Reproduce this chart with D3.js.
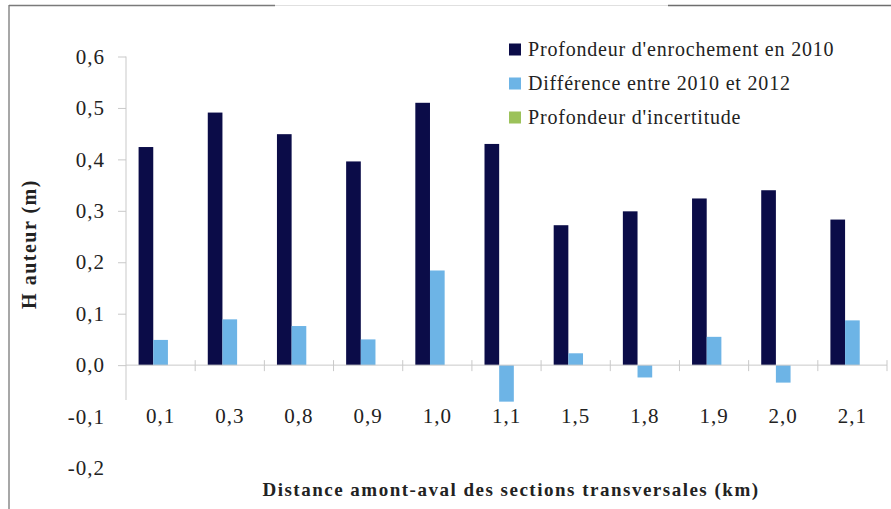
<!DOCTYPE html>
<html>
<head>
<meta charset="utf-8">
<script src="https://cdn.jsdelivr.net/npm/d3@7/dist/d3.min.js"></script>
<style>
  html, body { margin: 0; padding: 0; background: #fff; }
  svg { display: block; }
  text { font-family: "Liberation Serif", "Times New Roman", serif; fill: #222; }
</style>
</head>
<body>
<svg id="chart" width="891" height="509"></svg>
<script>
// Distance amont-aval des sections transversales (km)
const categories = ["0,1", "0,3", "0,8", "0,9", "1,0", "1,1", "1,5", "1,8", "1,9", "2,0", "2,1"];

// Hauteurs (m)
const profondeur2010 = [0.424, 0.491, 0.449, 0.396, 0.510, 0.430, 0.272, 0.299, 0.324, 0.340, 0.283];
const difference2010_2012 = [0.049, 0.089, 0.076, 0.050, 0.184, -0.071, 0.023, -0.024, 0.055, -0.034, 0.087];
const incertitude = [0, 0, 0, 0, 0, 0, 0, 0, 0, 0, 0];

const seriesNames = ["Profondeur d'enrochement en 2010", "Différence entre 2010 et 2012", "Profondeur d'incertitude"];
const seriesColors = ["#0b0c48", "#6db4e6", "#9cc25a"];
const yTicks = [-0.2, -0.1, 0, 0.1, 0.2, 0.3, 0.4, 0.5, 0.6];

const seriesValues = [profondeur2010, difference2010_2012, incertitude];
const rows = categories.map((c, i) => ({ cat: c, vals: seriesValues.map(s => s[i]) }));

const svg = d3.select("#chart");

// Frame lines
svg.append("line").attr("x1", 9).attr("x2", 9).attr("y1", 5).attr("y2", 509)
  .attr("stroke", "#8a8a8a").attr("stroke-width", 1.5);
svg.append("line").attr("x1", 9).attr("x2", 275).attr("y1", 5.5).attr("y2", 5.5)
  .attr("stroke", "#7a7a7a").attr("stroke-width", 1.5);
svg.append("line").attr("x1", 275).attr("x2", 668).attr("y1", 5.5).attr("y2", 5.5)
  .attr("stroke", "#e0e0e0").attr("stroke-width", 1);
svg.append("line").attr("x1", 668).attr("x2", 891).attr("y1", 5.5).attr("y2", 5.5)
  .attr("stroke", "#6e6e6e").attr("stroke-width", 1.5);

const left = 126, right = 887;
const x0 = d3.scaleBand().domain(categories).range([left, right])
  .paddingInner(0.364).paddingOuter(0.182);
const x1 = d3.scaleBand().domain(d3.range(seriesNames.length)).range([0, x0.bandwidth()]);
const y = d3.scaleLinear().domain([-0.2, 0.6]).range([468, 56.5]);

const fmt = v => d3.format(".1f")(v).replace(".", ",").replace("−", "-");

// Y axis
const yAxis = d3.axisLeft(y).tickValues(yTicks).tickSize(8).tickFormat(fmt).tickPadding(13);
const gy = svg.append("g").attr("transform", `translate(${left},0)`).call(yAxis);
gy.select(".domain").remove();
gy.selectAll(".tick line").attr("stroke", "#c9c9c9")
  .filter(d => d < -0.05).remove();
gy.selectAll(".tick text").attr("font-size", 21).attr("letter-spacing", 1).attr("fill", "#222");
svg.append("line").attr("x1", left).attr("x2", left).attr("y1", y(0.6)).attr("y2", 400)
  .attr("stroke", "#c9c9c9");

// Bars
const groups = svg.append("g").selectAll("g").data(rows).join("g")
  .attr("transform", d => `translate(${x0(d.cat)},0)`);
groups.selectAll("rect").data(d => d.vals.map((v, k) => ({ v, k }))).join("rect")
  .attr("x", d => x1(d.k))
  .attr("width", x1.bandwidth())
  .attr("y", d => y(Math.max(0, d.v)))
  .attr("height", d => Math.abs(y(d.v) - y(0)))
  .attr("fill", d => seriesColors[d.k]);

// X axis line at zero with crossing ticks at category boundaries
svg.append("line").attr("x1", left).attr("x2", right).attr("y1", y(0)).attr("y2", y(0))
  .attr("stroke", "#c9c9c9");
const boundaries = categories.map(c => x0(c) - x0.step() * x0.paddingInner() / 2 + x0.step());
svg.append("g").selectAll("line").data(boundaries).join("line")
  .attr("x1", d => d).attr("x2", d => d)
  .attr("y1", y(0) - 5).attr("y2", y(0) + 6)
  .attr("stroke", "#c9c9c9");

// Category labels
svg.append("g").selectAll("text").data(categories).join("text")
  .attr("x", d => x0(d) + x0.bandwidth() / 2)
  .attr("y", y(-0.1))
  .attr("dy", "0.32em")
  .attr("text-anchor", "middle")
  .attr("font-size", 21)
  .attr("letter-spacing", 1)
  .text(d => d);

// Axis titles
svg.append("text")
  .attr("x", 511).attr("y", 496)
  .attr("text-anchor", "middle")
  .attr("font-size", 19).attr("font-weight", "bold")
  .attr("letter-spacing", 1.5)
  .text("Distance amont-aval des sections transversales (km)");
svg.append("text")
  .attr("transform", "translate(36,244) rotate(-90)")
  .attr("text-anchor", "middle")
  .attr("font-size", 20).attr("font-weight", "bold")
  .attr("letter-spacing", 1.5)
  .text("H auteur (m)");

// Legend
const legend = svg.append("g").selectAll("g").data(seriesNames).join("g")
  .attr("transform", (d, i) => `translate(509,${49 + i * 34})`);
legend.append("rect").attr("x", 0).attr("y", -5.5).attr("width", 12).attr("height", 12)
  .attr("fill", (d, i) => seriesColors[i]);
legend.append("text").attr("x", 19).attr("y", 0).attr("dy", "0.35em")
  .attr("font-size", 20).attr("letter-spacing", 0.8).text(d => d);
</script>
</body>
</html>
